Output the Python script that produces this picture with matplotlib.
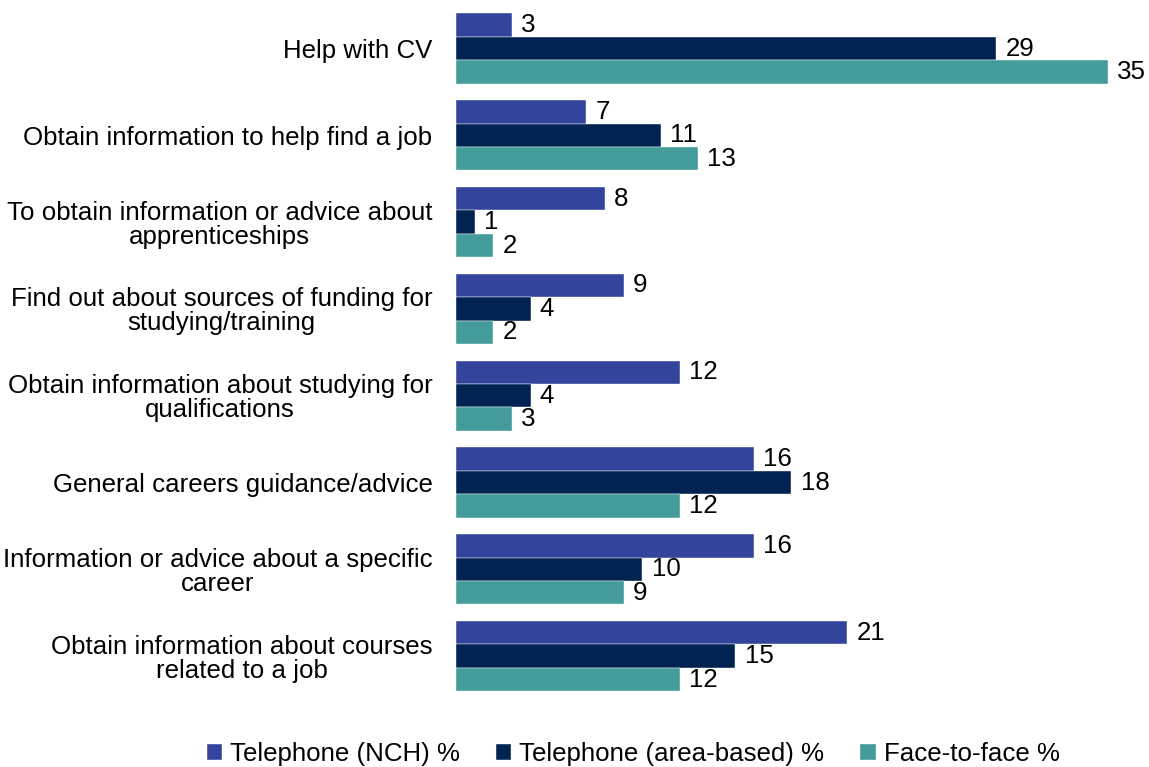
import matplotlib
matplotlib.use("Agg")
import matplotlib.pyplot as plt
import numpy as np

plt.rcParams['font.family'] = ['Liberation Sans', 'DejaVu Sans']

categories = [
    "Help with CV",
    "Obtain information to help find a job",
    "To obtain information or advice about\napprenticeships",
    "Find out about sources of funding for\nstudying/training",
    "Obtain information about studying for\nqualifications",
    "General careers guidance/advice",
    "Information or advice about a specific\ncareer",
    "Obtain information about courses\nrelated to a job",
]
series_names = ["Telephone (NCH) %", "Telephone (area-based) %", "Face-to-face %"]
nch = [3, 7, 8, 9, 12, 16, 16, 21]
area = [29, 11, 1, 4, 4, 18, 10, 15]
face = [35, 13, 2, 2, 3, 12, 9, 12]
colors = ["#33449C", "#002352", "#439C9A"]

fig = plt.figure(figsize=(11.49, 7.67), dpi=100)
ax = fig.add_axes([456/1149, 1-699.5/767, (1108-456)/1149, (699.5-5.1)/767])

y = np.arange(len(categories))
bh = 0.27
fs = 18.6
for i, (vals, name, c) in enumerate(zip([nch, area, face], series_names, colors)):
    pos = y + (i - 1) * bh
    ax.barh(pos, vals, height=bh, color=c, label=name, edgecolor='white', linewidth=0.3)
    for p, v in zip(pos, vals):
        ax.text(v + 0.5, p, str(v), va='center', ha='left', fontsize=fs, color='black', clip_on=False)

ax.set_xlim(0, 35)
ax.set_ylim(7.5, -0.5)
ax.set_yticks(y)
ax.set_yticklabels(categories, fontsize=fs, multialignment='center', linespacing=1.0)
ax.tick_params(axis='y', length=0, pad=17)
ax.set_xticks([])
for s in ax.spines.values():
    s.set_visible(False)

fig.legend(loc='center', bbox_to_anchor=(0.551, 0.017), ncol=3, frameon=False, fontsize=fs,
           handlelength=0.6, handleheight=0.6, handletextpad=0.3, columnspacing=1.4, borderaxespad=0)

fig.savefig("out.png", dpi=100)
